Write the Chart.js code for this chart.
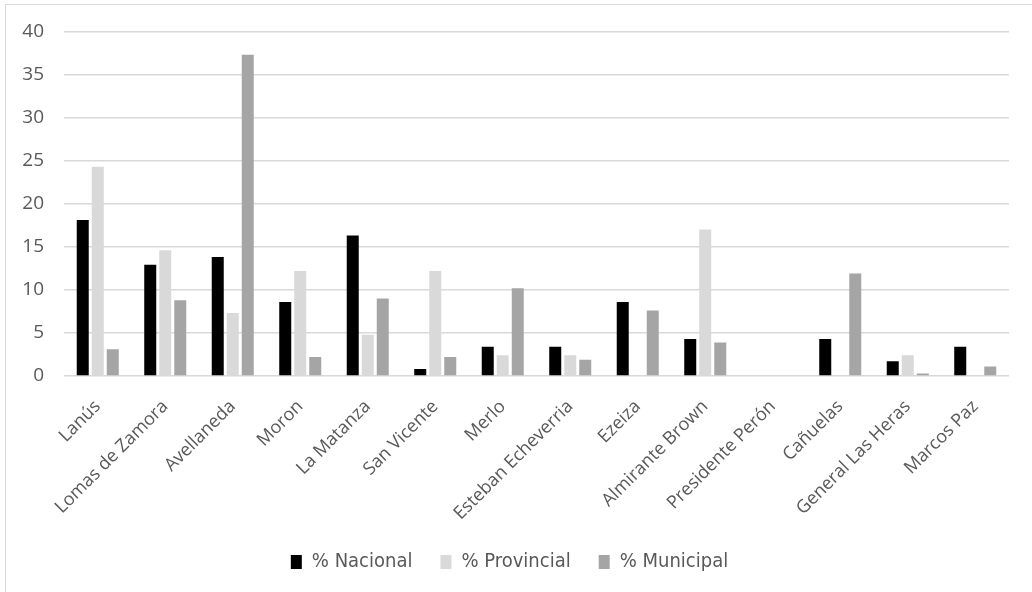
<!DOCTYPE html>
<html lang="es">
<head>
    <meta charset="UTF-8">
    <title>Distribución por municipio</title>
    <style>
        html, body { margin: 0; padding: 0; background: #fff; overflow: hidden; }
        .frame {
            position: absolute;
            left: 5px;
            top: 4px;
            width: 1100px;
            height: 700px;
            border: 1px solid #d9d9d9;
        }
        .chart-container {
            position: absolute;
            left: 0;
            top: 0;
            width: 1032px;
            height: 592px;
        }
    </style>
</head>
<body>
    <div class="frame"></div>
    <div class="chart-container">
        <canvas id="chart"></canvas>
    </div>

    <script src="https://cdn.jsdelivr.net/npm/chart.js"></script>
    <script>
        const municipios = ['Lanús', 'Lomas de Zamora', 'Avellaneda', 'Moron', 'La Matanza', 'San Vicente',
            'Merlo', 'Esteban Echeverria', 'Ezeiza', 'Almirante Brown', 'Presidente Perón', 'Cañuelas',
            'General Las Heras', 'Marcos Paz'];
        const nacional   = [18.1, 12.9, 13.8, 8.6, 16.3, 0.8, 3.4, 3.4, 8.6, 4.3, 0, 4.3, 1.7, 3.4];
        const provincial = [24.3, 14.6, 7.3, 12.2, 4.8, 12.2, 2.4, 2.4, 0, 17.0, 0, 0, 2.4, 0];
        const municipal  = [3.1, 8.8, 37.3, 2.2, 9.0, 2.2, 10.2, 1.9, 7.6, 3.9, 0, 11.9, 0.3, 1.1];
        const yTicks = [0, 5, 10, 15, 20, 25, 30, 35, 40];

        const txt = '#595959';

        new Chart(document.getElementById('chart'), {
            type: 'bar',
            data: {
                labels: municipios,
                datasets: [
                    { label: '% Nacional', data: nacional, backgroundColor: '#000000' },
                    { label: '% Provincial', data: provincial, backgroundColor: '#d9d9d9' },
                    { label: '% Municipal', data: municipal, backgroundColor: '#a5a5a5' }
                ]
            },
            options: {
                responsive: true,
                maintainAspectRatio: false,
                animation: false,
                categoryPercentage: 0.667,
                barPercentage: 0.8,
                layout: { padding: { left: 10, right: 23, top: 20, bottom: 10 } },
                plugins: {
                    tooltip: { enabled: false },
                    legend: {
                        position: 'bottom',
                        labels: {
                            color: txt,
                            font: { family: "'DejaVu Sans Condensed', 'Liberation Sans Narrow', 'Open Sans'", size: 20 },
                            boxWidth: 11,
                            boxHeight: 14,
                            padding: 28
                        }
                    }
                },
                scales: {
                    x: {
                        grid: { display: false },
                        border: { display: false },
                        ticks: {
                            color: txt,
                            font: { family: 'Open Sans', size: 18 },
                            maxRotation: 45,
                            minRotation: 45,
                            autoSkip: false,
                            padding: 12
                        },
                        afterFit: s => { s.height = 148; }
                    },
                    y: {
                        min: 0,
                        max: 40,
                        afterBuildTicks: s => { s.ticks = yTicks.map(v => ({ value: v })); },
                        grid: { color: '#d9d9d9', lineWidth: 1.5, drawTicks: false },
                        border: { display: false },
                        ticks: { color: txt, font: { family: 'Open Sans', size: 19 }, padding: 20 },
                        afterFit: s => { s.width = 54; }
                    }
                }
            }
        });
    </script>
</body>
</html>
